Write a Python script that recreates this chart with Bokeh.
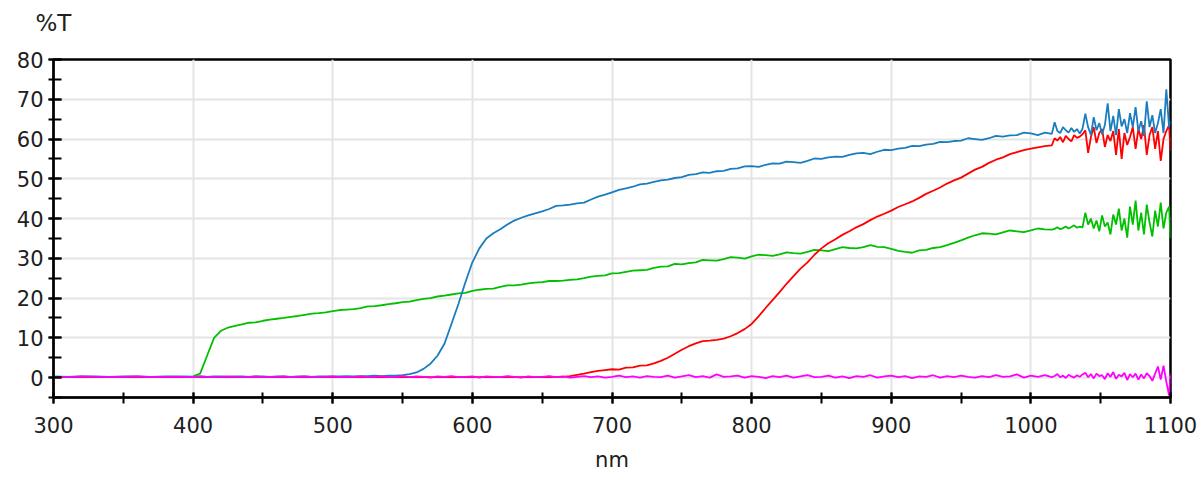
from bokeh.plotting import figure
from bokeh.embed import file_html
from bokeh.resources import INLINE
from bokeh.models import Range1d, SingleIntervalTicker, Title

# wavelength grid (nm): 10 nm steps, then 5 nm steps, then 2 nm steps in the noisy end
wl = list(range(300, 401, 10)) + list(range(405, 1016, 5)) + list(range(1017, 1100, 2)) + [1100]

blue_a = [0.3, 0.2, 0.3, 0.3, 0.2, 0.3, 0.3, 0.2, 0.3, 0.3, 0.2]
blue_b = [0.3, 0.2, 0.3, 0.3, 0.2, 0.3, 0.3, 0.2, 0.3, 0.3,
          0.2, 0.3, 0.3, 0.2, 0.3, 0.3, 0.2, 0.3, 0.3, 0.3,
          0.3, 0.4, 0.3, 0.4, 0.4, 0.5, 0.4, 0.5, 0.5, 0.6,
          0.9, 1.3, 2.2, 3.5, 5.5, 8.5, 13.5, 18.5, 24.0, 29.0,
          32.5, 35.0, 36.3, 37.3, 38.5, 39.5, 40.2, 40.8, 41.3, 41.8,
          42.4, 43.2, 43.3, 43.5, 43.8, 44.0, 44.8, 45.5, 46.0, 46.6,
          47.2, 47.6, 48.0, 48.6, 48.8, 49.2, 49.6, 49.8, 50.2, 50.4,
          51.0, 51.2, 51.6, 51.5, 51.9, 52.0, 52.5, 52.6, 53.1, 53.2,
          53.0, 53.5, 53.9, 53.8, 54.3, 54.2, 54.0, 54.5, 55.1, 55.0,
          55.4, 55.6, 55.5, 56.0, 56.4, 56.5, 56.2, 56.8, 57.3, 57.2,
          57.6, 57.8, 58.3, 58.2, 58.6, 58.8, 59.3, 59.2, 59.5, 59.6,
          60.2, 60.0, 59.8, 60.2, 60.8, 60.6, 60.9, 61.0, 61.6, 61.4,
          61.0, 61.6, 61.3]
blue_c = [64.2, 62.0, 61.5, 63.0, 62.2, 61.6, 62.8, 61.8, 62.5, 61.4,
          62.6, 66.4, 63.0, 61.0, 65.5, 62.2, 64.0, 61.2, 63.5, 69.0,
          62.0, 65.8, 61.0, 67.5, 63.2, 65.0, 61.5, 66.5, 63.0, 68.0,
          62.0, 64.5, 60.8, 69.5, 63.0, 66.0, 61.5, 64.0, 67.5, 61.5,
          72.5, 63.0, 64.5]

green_a = [0.2, 0.2, 0.1, 0.2, 0.2, 0.1, 0.2, 0.2, 0.1, 0.2, 0.3]
green_b = [1.0, 5.5, 10.0, 11.8, 12.6, 13.0, 13.4, 13.8, 13.9, 14.3,
           14.6, 14.8, 15.0, 15.3, 15.5, 15.8, 16.1, 16.2, 16.4, 16.7,
           17.0, 17.1, 17.2, 17.5, 17.9, 18.0, 18.2, 18.5, 18.7, 19.0,
           19.1, 19.5, 19.8, 20.0, 20.4, 20.6, 20.9, 21.2, 21.3, 21.8,
           22.1, 22.3, 22.4, 22.8, 23.2, 23.2, 23.4, 23.7, 23.9, 24.0,
           24.3, 24.3, 24.4, 24.6, 24.7, 25.0, 25.4, 25.6, 25.7, 26.2,
           26.3, 26.6, 26.9, 27.0, 27.1, 27.6, 27.9, 28.0, 28.6, 28.5,
           28.8, 29.0, 29.6, 29.5, 29.4, 29.8, 30.3, 30.2, 29.9, 30.5,
           30.9, 30.8, 30.6, 31.0, 31.5, 31.3, 31.2, 31.6, 32.1, 32.0,
           31.8, 32.3, 32.8, 32.6, 32.5, 32.8, 33.3, 32.9, 32.8, 32.4,
           31.9, 31.6, 31.4, 32.0, 32.1, 32.6, 32.8, 33.3, 33.9, 34.5,
           35.2, 35.8, 36.3, 36.2, 36.0, 36.5, 37.0, 36.8, 36.6, 37.0,
           37.5, 37.3, 37.2]
green_c = [37.4, 37.8, 37.3, 37.6, 38.0, 37.5, 37.9, 38.3, 37.7, 38.0,
           37.8, 41.5, 38.5, 40.0, 37.5, 39.5, 36.8, 40.8, 38.0, 39.0,
           36.0, 41.0, 38.5, 42.5, 37.0, 40.0, 35.2, 43.0, 38.5, 44.5,
           37.0, 41.5, 36.0, 43.5, 39.0, 35.5, 42.0, 38.0, 44.0, 37.5,
           41.5, 43.0, 35.0]

red_a = [0.1, 0.2, 0.1, 0.1, 0.2, 0.1, 0.1, 0.2, 0.1, 0.1, 0.2]
red_b = [0.1, 0.1, 0.2, 0.1, 0.1, 0.2, 0.1, 0.1, 0.2, 0.1,
         0.1, 0.2, 0.1, 0.1, 0.2, 0.1, 0.1, 0.2, 0.1, 0.1,
         0.2, 0.1, 0.1, 0.2, 0.1, 0.1, 0.2, 0.1, 0.1, 0.2,
         0.1, 0.1, 0.2, 0.1, 0.1, 0.2, 0.1, 0.1, 0.2, 0.1,
         0.1, 0.2, 0.1, 0.1, 0.2, 0.1, 0.1, 0.2, 0.1, 0.2,
         0.1, 0.2, 0.2, 0.4, 0.7, 1.0, 1.4, 1.7, 1.9, 2.1,
         2.0, 2.5, 2.6, 3.0, 3.1, 3.6, 4.2, 5.0, 6.0, 7.0,
         7.9, 8.6, 9.2, 9.3, 9.5, 9.8, 10.4, 11.2, 12.2, 13.5,
         15.4, 17.5, 19.5, 21.5, 23.6, 25.5, 27.4, 29.0, 30.9, 32.5,
         33.8, 34.8, 35.9, 36.8, 37.8, 38.6, 39.6, 40.5, 41.2, 42.0,
         42.9, 43.6, 44.3, 45.2, 46.2, 47.0, 47.8, 48.8, 49.6, 50.3,
         51.3, 52.3, 53.0, 54.0, 54.8, 55.4, 56.2, 56.7, 57.2, 57.6,
         57.9, 58.2, 58.4]
red_c = [60.2, 59.6, 60.5, 59.2, 60.8, 60.0, 59.4, 61.0, 60.3, 60.6,
         61.2, 62.2, 56.5, 60.5, 63.0, 59.0, 61.5, 62.5, 58.0, 61.0,
         59.5, 62.0, 56.0, 62.5, 55.0, 61.5, 58.5, 60.5, 63.0, 57.5,
         62.5, 60.0, 63.5, 56.0, 61.0, 63.0, 57.5, 62.0, 54.5, 60.0,
         62.0, 63.5, 57.0]

magenta_a = [0.2, 0.1, 0.3, 0.2, 0.1, 0.2, 0.3, 0.1, 0.2, 0.2, 0.1]
magenta_b = [0.3, 0.2, 0.1, 0.2, 0.3, 0.2, 0.1, 0.2, 0.3, 0.1,
             0.2, 0.2, 0.3, 0.1, 0.2, 0.3, 0.2, 0.1, 0.2, 0.3,
             0.1, 0.2, 0.2, 0.3, 0.1, 0.2, 0.3, 0.1, 0.2, 0.4,
             0.1, 0.3, 0.2, 0.0, 0.3, 0.2, 0.4, 0.1, 0.2, 0.3,
             0.0, 0.3, 0.2, 0.1, 0.4, 0.2, 0.0, 0.3, 0.1, 0.2,
             0.4, 0.1, 0.3, 0.0, 0.2, 0.4, 0.1, 0.3, 0.0, 0.2,
             0.5, 0.1, 0.3, 0.0, 0.4, 0.2, 0.1, 0.5, 0.0, 0.3,
             0.6, 0.1, 0.4, 0.0, 0.8, 0.2, 0.3, 0.5, 0.0, 0.4,
             0.2, -0.1, 0.4, 0.1, 0.5, 0.0, 0.3, 0.6, 0.1, 0.2,
             0.5, 0.0, 0.3, -0.1, 0.4, 0.2, 0.6, 0.0, 0.3, 0.5,
             0.1, 0.4, -0.1, 0.3, 0.2, 0.6, 0.0, 0.4, 0.1, 0.5,
             0.2, 0.0, 0.4, 0.1, 0.6, 0.2, 0.3, 0.8, 0.0, 0.5,
             0.2, 0.6, 0.1]
magenta_c = [0.4, 0.9, 0.1, 0.5, -0.1, 0.7, 0.3, 0.0, 0.6, 0.2,
             0.8, 1.2, 0.1, 0.9, -0.2, 1.0, 0.4, 0.6, -0.4, 1.1,
             0.2, 1.4, -0.3, 0.7, 0.3, 1.2, -0.6, 0.9, 0.1, 1.0,
             -0.5, 0.8, -0.2, 1.1, 0.4, -0.8, 1.0, 2.8, -0.5, 3.0,
             -1.0, -4.5, 1.0]

blue = blue_a + blue_b + blue_c
green = green_a + green_b + green_c
red = red_a + red_b + red_c
magenta = magenta_a + magenta_b + magenta_c

FONT = "DejaVu Sans"
TXT = "#202020"

p = figure(width=1200, height=477, output_backend="svg", toolbar_location=None,
           x_range=Range1d(300, 1100), y_range=Range1d(-5, 80),
           min_border_left=53, min_border_right=30, min_border_top=59,
           min_border_bottom=80)

# "%T" unit label above the top-left corner of the frame
# (a blank second line lifts it higher above the frame)
p.title = Title(text="%T\n ", align="left", offset=-18, standoff=0,
                vertical_align="bottom", text_line_height=0.89,
                text_font=FONT, text_font_size="23px", text_font_style="normal",
                text_color=TXT)

p.xaxis.ticker = SingleIntervalTicker(interval=100, num_minor_ticks=2)
p.yaxis.ticker = SingleIntervalTicker(interval=10, num_minor_ticks=2)
p.xaxis.axis_label = "nm"

for ax in (p.xaxis, p.yaxis):
    ax.axis_line_color = "black"
    ax.axis_line_width = 2
    ax.major_tick_line_color = "black"
    ax.minor_tick_line_color = "black"
    ax.major_tick_line_width = 2
    ax.minor_tick_line_width = 2
    ax.major_label_text_font = FONT
    ax.major_label_text_font_size = "21px"
    ax.major_label_text_color = TXT
    ax.axis_label_text_font = FONT
    ax.axis_label_text_font_size = "21px"
    ax.axis_label_text_font_style = "normal"
    ax.axis_label_text_color = TXT

p.xaxis.major_tick_in = 5
p.xaxis.major_tick_out = 6
p.xaxis.minor_tick_in = 5
p.xaxis.minor_tick_out = 6
p.xaxis.major_label_standoff = 13
p.xaxis.axis_label_standoff = 12
p.yaxis.major_tick_in = 8
p.yaxis.major_tick_out = 5
p.yaxis.minor_tick_in = 8
p.yaxis.minor_tick_out = 5
p.yaxis.major_label_standoff = 5

p.xgrid.grid_line_color = "#e4e4e4"
p.ygrid.grid_line_color = "#e4e4e4"
p.xgrid.grid_line_width = 2
p.ygrid.grid_line_width = 2

p.outline_line_color = "black"
p.outline_line_width = 2.5
p.outline_line_alpha = 1

p.line(wl, green, line_color="#00c000", line_width=1.8)
p.line(wl, red, line_color="#ff0000", line_width=1.8)
p.line(wl, blue, line_color="#1a7dc0", line_width=1.8)
p.line(wl, magenta, line_color="#ff00ff", line_width=1.8)

open("out.html", "w").write(file_html(p, INLINE))
